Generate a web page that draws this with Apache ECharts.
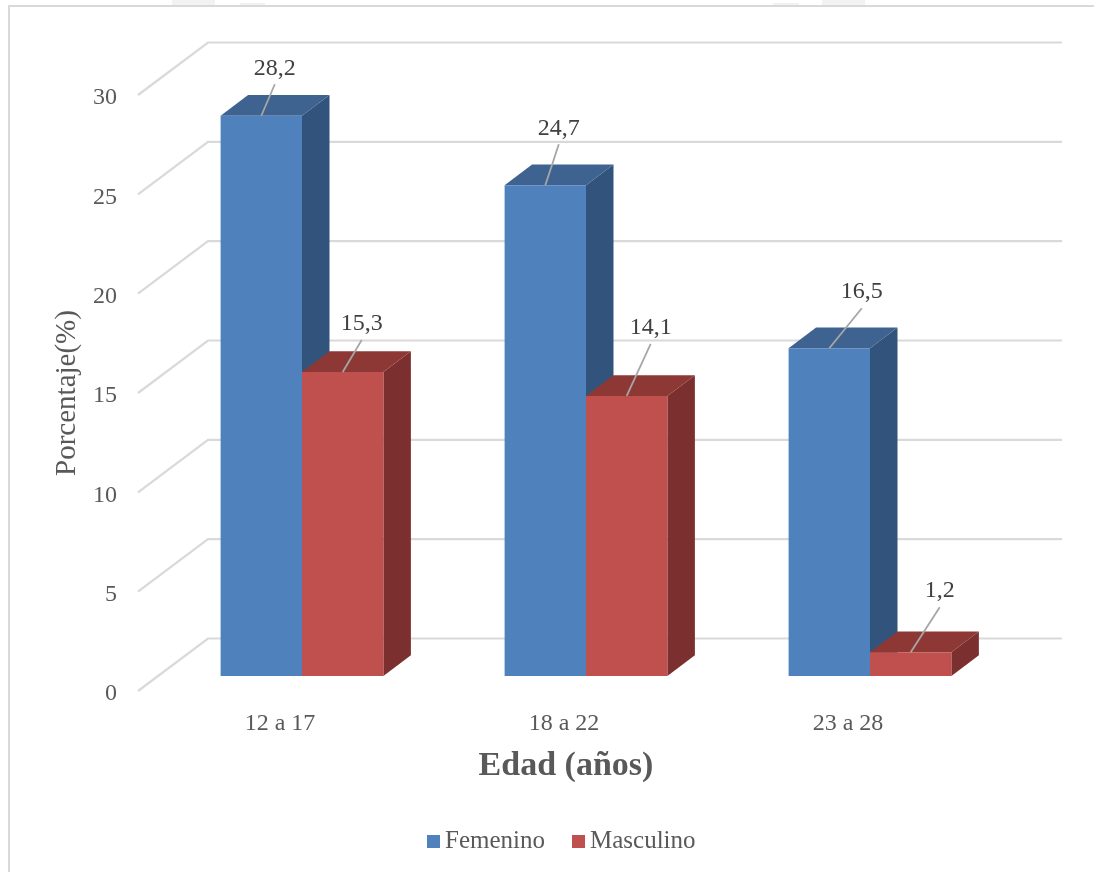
<!DOCTYPE html>
<html>
<head>
<meta charset="utf-8">
<title>Porcentaje por edad y sexo</title>
<script src="https://cdn.jsdelivr.net/npm/echarts@6/dist/echarts.min.js"></script>
<style>
  html, body { margin: 0; padding: 0; background: #fff; }
  #chart { width: 1094px; height: 872px; }
</style>
</head>
<body>
<div id="chart"></div>
<script>
// Percentage of respondents by age group and sex
const categories = ['12 a 17', '18 a 22', '23 a 28'];
const femenino = [28.2, 24.7, 16.5];
const masculino = [15.3, 14.1, 1.2];
const yTicks = [0, 5, 10, 15, 20, 25, 30];

// Where each value label sits relative to the top-centre of its bar
const femeninoLabelOffset = [[13.5, -47.5], [13.5, -57], [32.5, -56]];
const masculinoLabelOffset = [[19, -48], [24, -68], [29, -61]];

const FONT = '"Liberation Serif", serif';

// Oblique projection: floor/wall depth, and where the bars stand inside it
const WALL_DX = 70, WALL_DY = -52.5;
const BAR_DX = 22, BAR_DY = -15;
const DEPTH_DX = 27.5, DEPTH_DY = -20.7;
const BAR_WIDTH_RATIO = 0.2866;

function wallItem(params, api) {
  const p = api.coord([0, api.value(1)]);
  const r = params.coordSys;
  return {
    type: 'polyline',
    shape: { points: [
      [r.x, p[1]],
      [r.x + WALL_DX, p[1] + WALL_DY],
      [r.x + r.width + WALL_DX + 2, p[1] + WALL_DY]
    ] },
    style: { stroke: '#D9D9D9', lineWidth: 2.2, fill: null }
  };
}

function barRenderer(side, colors, offsets) {
  return function (params, api) {
    const idx = api.value(0);
    const val = api.value(1);
    const w = api.size([1, 0])[0] * BAR_WIDTH_RATIO;
    const top = api.coord([idx, val]);
    const base = api.coord([idx, 0]);
    const x0 = top[0] + BAR_DX + (side < 0 ? -w : 0);
    const x1 = x0 + w;
    const yT = top[1] + BAR_DY;
    const yB = base[1] + BAR_DY;
    const cx = (x0 + x1) / 2;
    const off = offsets[idx];
    const lx = cx + off[0], ly = yT + off[1];
    return {
      type: 'group',
      children: [
        { type: 'polygon',
          shape: { points: [[x1, yT], [x1 + DEPTH_DX, yT + DEPTH_DY], [x1 + DEPTH_DX, yB + DEPTH_DY], [x1, yB]] },
          style: { fill: colors.side } },
        { type: 'polygon',
          shape: { points: [[x0, yT], [x0 + DEPTH_DX, yT + DEPTH_DY], [x1 + DEPTH_DX, yT + DEPTH_DY], [x1, yT]] },
          style: { fill: colors.top } },
        { type: 'rect',
          shape: { x: x0, y: yT, width: w, height: yB - yT },
          style: { fill: colors.front } },
        { type: 'line',
          shape: { x1: lx, y1: ly + 16, x2: cx, y2: yT },
          style: { stroke: '#A6A6A6', lineWidth: 1.8 } },
        { type: 'text',
          style: { x: lx, y: ly, text: String(val).replace('.', ','), align: 'center', verticalAlign: 'middle',
                   fill: '#404040', font: '24px ' + FONT } }
      ]
    };
  };
}

const BLUE = { front: '#4F81BD', top: '#3E6390', side: '#32547C' };
const RED = { front: '#C0504D', top: '#8E3836', side: '#7B2F2E' };

const chart = echarts.init(document.getElementById('chart'), null, { renderer: 'canvas' });
chart.setOption({
  animation: false,
  backgroundColor: '#ffffff',
  grid: { left: 138, top: 95, width: 852, height: 596 },
  xAxis: {
    type: 'category',
    data: categories,
    axisLine: { show: false },
    axisTick: { show: false },
    axisLabel: { color: '#595959', fontFamily: FONT, fontSize: 24, margin: 21 },
    name: 'Edad (años)',
    nameLocation: 'middle',
    nameGap: 58,
    nameTextStyle: { color: '#595959', fontFamily: FONT, fontSize: 34, fontWeight: 'bold', padding: [0, 0, 0, 4] }
  },
  yAxis: {
    type: 'value',
    min: 0,
    max: 30,
    interval: 5,
    splitLine: { show: false },
    axisLine: { show: false },
    axisTick: { show: false },
    axisLabel: {
      margin: 21,
      formatter: '{n|{value}}',
      rich: { n: { color: '#595959', fontFamily: FONT, fontSize: 24, padding: [6, 0, 0, 0] } }
    },
    name: 'Porcentaje(%)',
    nameLocation: 'middle',
    nameRotate: 90,
    nameGap: 54,
    nameTextStyle: { color: '#595959', fontFamily: FONT, fontSize: 29 }
  },
  legend: {
    data: [
      { name: 'Femenino', itemStyle: { color: BLUE.front } },
      { name: 'Masculino', itemStyle: { color: RED.front } }
    ],
    left: 422,
    top: 824,
    icon: 'rect',
    itemWidth: 13,
    itemHeight: 13,
    itemGap: 27,
    textStyle: { color: '#595959', fontFamily: FONT, fontSize: 25 }
  },
  series: [
    {
      type: 'custom',
      name: 'Paredes',
      coordinateSystem: 'cartesian2d',
      renderItem: wallItem,
      encode: { x: 0, y: 1 },
      data: yTicks.map(v => [0, v]),
      silent: true,
      clip: false,
      z: 1
    },
    {
      type: 'custom',
      name: 'Femenino',
      coordinateSystem: 'cartesian2d',
      renderItem: barRenderer(-1, BLUE, femeninoLabelOffset),
      encode: { x: 0, y: 1 },
      data: femenino.map((v, i) => [i, v]),
      itemStyle: { color: BLUE.front },
      clip: false,
      z: 2
    },
    {
      type: 'custom',
      name: 'Masculino',
      coordinateSystem: 'cartesian2d',
      renderItem: barRenderer(1, RED, masculinoLabelOffset),
      encode: { x: 0, y: 1 },
      data: masculino.map((v, i) => [i, v]),
      itemStyle: { color: RED.front },
      clip: false,
      z: 3
    }
  ],
  graphic: [
    { type: 'polyline', silent: true, shape: { points: [[9, 872], [9, 6], [1094, 6]] },
      style: { stroke: '#D9D9D9', lineWidth: 2, fill: null } },
    { type: 'rect', silent: true, shape: { x: 172, y: 0, width: 43, height: 5 }, style: { fill: '#F2F2F2' } },
    { type: 'rect', silent: true, shape: { x: 240, y: 3, width: 25, height: 2 }, style: { fill: '#F2F2F2' } },
    { type: 'rect', silent: true, shape: { x: 773, y: 3, width: 26, height: 2 }, style: { fill: '#F2F2F2' } },
    { type: 'rect', silent: true, shape: { x: 822, y: 0, width: 43, height: 5 }, style: { fill: '#F2F2F2' } }
  ]
});
</script>
</body>
</html>
